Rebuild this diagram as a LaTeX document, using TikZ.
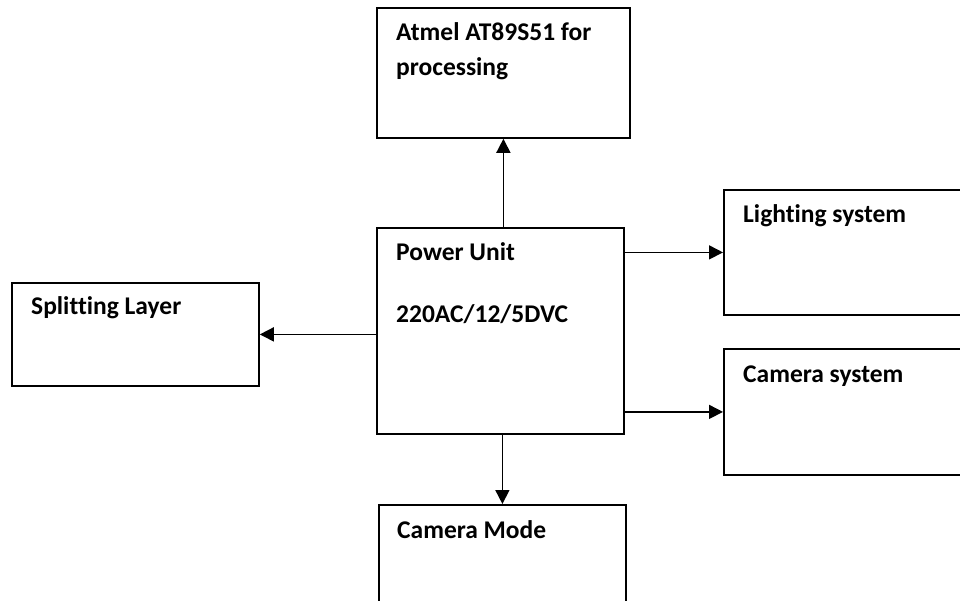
\documentclass[tikz,border=0pt]{standalone}
\usepackage{fontspec}
\setmainfont[Ligatures=NoCommon]{Carlito}
\usetikzlibrary{arrows.meta}

\begin{document}
\begin{tikzpicture}[x=1pt, y=-1pt]

    % Define styles
    \tikzset{
        block/.style={rectangle, draw=black, line width=1.8pt, inner sep=0pt, anchor=north west},
        boxtext/.style={font=\fontsize{25.5}{30}\selectfont\bfseries, anchor=base west, inner sep=0pt},
        feed arrow/.style={-{Triangle[length=14pt, width=14pt]}, line width=1.6pt, draw=black}
    }

    % Page size; boxes at the right and bottom run off the edge
    \useasboundingbox (0,0) rectangle (960,601);
    \clip (0,0) rectangle (960,601);

    % Blocks
    \node[block, minimum width=253pt, minimum height=130pt] (atmel) at (376,7) {};
    \node[block, minimum width=247pt, minimum height=206pt] (power) at (376,227) {};
    \node[block, minimum width=247pt, minimum height=103pt] (split) at (11,282) {};
    \node[block, minimum width=252pt, minimum height=125pt] (light) at (723,189) {};
    \node[block, minimum width=252pt, minimum height=126pt] (camsys) at (723,348) {};
    \node[block, minimum width=247pt, minimum height=156pt] (cammode) at (378,504) {};

    % Block texts
    \node[boxtext] (atmel-a) at (396,41) {Atmel AT89S51 for};
    \node[boxtext] (atmel-b) at (396,76) {processing};
    \node[boxtext] (power-a) at (396,261) {Power Unit};
    \node[boxtext] (power-b) at (396,322) {220AC/12/5DVC};
    \node[boxtext] (split-a) at (31,315) {Splitting Layer};
    \node[boxtext] (light-a) at (743,223) {Lighting system};
    \node[boxtext] (camsys-a) at (743,382) {Camera system};
    \node[boxtext] (cammode-a) at (397,538) {Camera Mode};

    % Arrows out of the power unit
    \draw[feed arrow] (atmel.south |- power.north) -- (atmel.south);
    \draw[feed arrow] (power.west |- split.east) -- (split.east);
    \draw[feed arrow] (power.east |- light.west) -- (light.west);
    \draw[feed arrow] (power.east |- camsys.west) -- (camsys.west);
    \draw[feed arrow] (power.south -| cammode.north) -- (cammode.north);

\end{tikzpicture}
\end{document}
